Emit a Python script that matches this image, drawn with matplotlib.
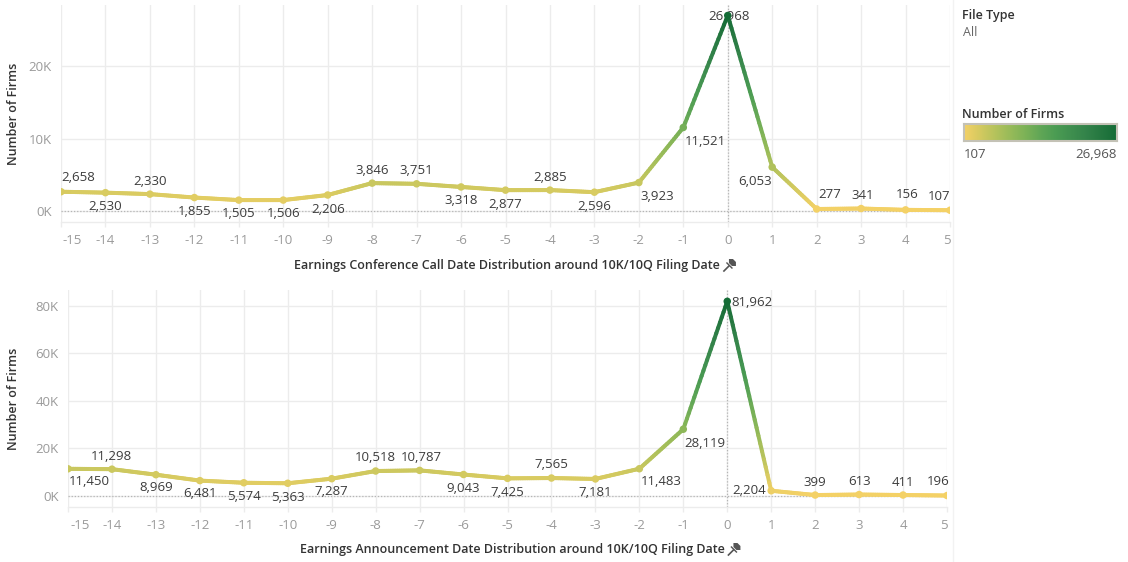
import numpy as np
import matplotlib
matplotlib.use("Agg")
import matplotlib.pyplot as plt
from matplotlib.collections import LineCollection
from matplotlib.colors import LinearSegmentedColormap, Normalize
from matplotlib.patches import Polygon
import matplotlib.transforms as mtransforms

# ---------------- data ----------------
days = list(range(-15, 6))
call_firms = [2658, 2530, 2330, 1855, 1505, 1506, 2206, 3846, 3751, 3318, 2877,
              2885, 2596, 3923, 11521, 26968, 6053, 277, 341, 156, 107]
ann_firms = [11450, 11298, 8969, 6481, 5574, 5363, 7287, 10518, 10787, 9043, 7425,
             7565, 7181, 11483, 28119, 81962, 2204, 399, 613, 411, 196]
call_yticks = [0, 10000, 20000]
ann_yticks = [0, 20000, 40000, 60000, 80000]
call_xlabel = "Earnings Conference Call Date Distribution around 10K/10Q Filing Date"
ann_xlabel = "Earnings Announcement Date Distribution around 10K/10Q Filing Date"
y_title = "Number of Firms"
legend_filter_title = "File Type"
legend_filter_value = "All"
legend_color_title = "Number of Firms"

# label placement offsets (pixels; dy positive = up)
call_lab_off = [(17, 14), (0, -14), (0, 13), (0, -14), (0, -13), (0, -13), (0, -14),
                (0, 13), (0, 13), (0, -14), (0, -14), (0, 13), (0, -14), (18, -14),
                (22, -14), (1, -1), (-17, -14), (13, 14), (2, 13), (2, 15), (-11, 14)]
ann_lab_off = [(21, -13), (-1, 13), (0, -13), (0, -13), (0, -14), (0, -14), (0, -13),
               (0, 14), (2, 13), (0, -14), (0, -14), (0, 14), (0, -14), (22, -13),
               (22, -14), (25, -1), (-22, 0), (0, 13), (0, 13), (0, 13), (-9, 14)]

FONT = "Open Sans"
plt.rcParams["font.family"] = [FONT, "DejaVu Sans"]

W, H = 1128, 562
DPI = 100
fig = plt.figure(figsize=(W / DPI, H / DPI), dpi=DPI)
fig.patch.set_facecolor("white")

cmap = LinearSegmentedColormap.from_list(
    "goldgreen",
    ["#f4d166", "#d5ca60", "#b6c35c", "#98bb59", "#7cb257", "#60a656",
     "#4b9c53", "#3f8f4f", "#33834a", "#257740", "#146c36"])

GRID = "#ececec"
TICKC = "#9a9a9a"
LABC = "#3c3c3c"
PX = 72.0 / DPI  # points per pixel


def px_axes(left, top, right, bottom):
    return fig.add_axes([left / W, 1 - bottom / H, (right - left) / W, (bottom - top) / H])


def draw_panel(ax, vals, yticks, ylim, offsets, xlabel, first_shift, title_cx, label_y):
    x = np.array(days, dtype=float)
    v = np.array(vals, dtype=float)
    norm = Normalize(vmin=v.min(), vmax=v.max())
    segs, cols = [], []
    n = 24
    for i in range(len(x) - 1):
        t = np.linspace(0, 1, n + 1)
        xs = x[i] + (x[i + 1] - x[i]) * t
        ys = v[i] + (v[i + 1] - v[i]) * t
        for j in range(n):
            segs.append([(xs[j], ys[j]), (xs[j + 1], ys[j + 1])])
            cols.append(cmap(norm((ys[j] + ys[j + 1]) / 2)))
    lc = LineCollection(segs, colors=cols, linewidths=4 * PX, capstyle="round",
                        joinstyle="round", zorder=4)
    ax.add_collection(lc)
    ax.scatter(x, v, s=(7.5 * PX) ** 2, c=[cmap(norm(a)) for a in v], zorder=5,
               linewidths=0)

    ax.set_xlim(-15, 5)
    ax.set_ylim(*ylim)
    ax.set_xticks(days)
    ax.set_xticklabels([str(d) for d in days])
    ax.set_yticks(yticks)
    ax.set_yticklabels(["%dK" % (t // 1000) for t in yticks])
    ax.grid(True, color=GRID, lw=1.0)
    ax.set_axisbelow(True)
    for s in ["top", "right", "left"]:
        ax.spines[s].set_visible(False)
    ax.spines["bottom"].set_color(GRID)
    ax.spines["bottom"].set_linewidth(1.0)
    ax.tick_params(axis="x", colors=GRID, length=5 * PX, width=1.0, pad=5,
                   labelcolor=TICKC, labelsize=9.5)
    ax.tick_params(axis="y", length=0, pad=9 * PX, labelcolor=TICKC, labelsize=9.5)
    # zero lines
    ax.axhline(0, color="#b5b5b5", lw=0.9, ls=(0, (1, 1.5)), zorder=2)
    ax.axvline(0, color="#b5b5b5", lw=0.9, ls=(0, (1, 1.5)), zorder=2)
    # shift first/last tick label
    labs = ax.get_xticklabels()
    labs[0].set_transform(labs[0].get_transform() +
                          mtransforms.ScaledTranslation(first_shift / DPI, 0, fig.dpi_scale_trans))
    labs[-1].set_transform(labs[-1].get_transform() +
                           mtransforms.ScaledTranslation(-3 / DPI, 0, fig.dpi_scale_trans))
    # data labels
    for xi, vi, (dx, dy) in zip(x, v, offsets):
        ax.annotate(f"{int(vi):,}", (xi, vi), xytext=(dx * PX, dy * PX),
                    textcoords="offset points", ha="center", va="center",
                    fontsize=9.5, color=LABC, zorder=3, annotation_clip=False)
    # x title
    t = fig.text(title_cx / W, 1 - label_y / H, xlabel, ha="center", va="center",
                 fontsize=9, color="#333333", fontweight="semibold")
    return t


ax1 = px_axes(61, 5, 950, 222)
t1 = draw_panel(ax1, call_firms, call_yticks, (-1517, 28414), call_lab_off, call_xlabel, 11, 507, 265)
ax2 = px_axes(68, 290, 947, 507)
t2 = draw_panel(ax2, ann_firms, ann_yticks, (-4632, 86737), ann_lab_off, ann_xlabel, 12, 512, 549)

# y titles
fig.text(14 / W, 1 - 113.5 / H, y_title, rotation=90, ha="center", va="center",
         fontsize=9, color="#333333", fontweight="semibold")
fig.text(14 / W, 1 - 398.5 / H, y_title, rotation=90, ha="center", va="center",
         fontsize=9, color="#333333", fontweight="semibold")

# pins after titles
fig.canvas.draw()
renderer = fig.canvas.get_renderer()


def draw_pin(cx, cy):
    # cx, cy in pixel coords (top-left origin)
    def P(px, py):
        return ((cx + px) / W, 1 - (cy + py) / H)
    head = Polygon([P(-1, -6), P(3, -6), P(6, -3), P(6, 1), P(2, 1), P(-1, -2)],
                   closed=True, transform=fig.transFigure, facecolor="#555555",
                   edgecolor="none")
    fig.patches.append(head)
    bar = Polygon([P(-3, -3), P(3, 3), P(2, 4), P(-4, -2)], closed=True,
                  transform=fig.transFigure, facecolor="#555555", edgecolor="none")
    fig.patches.append(bar)
    fig.lines.append(plt.Line2D([(cx - 1) / W, (cx - 6) / W], [1 - (cy + 1) / H, 1 - (cy + 6) / H],
                                transform=fig.transFigure, color="#555555", lw=1.2))


for t, cy in [(t1, 265), (t2, 549)]:
    bb = t.get_window_extent(renderer)
    draw_pin(bb.x1 + 10, cy)

# separator line
fig.lines.append(plt.Line2D([953 / W, 953 / W], [0, 1], transform=fig.transFigure,
                            color="#f2f2f2", lw=1.0))

# legend
fig.text(962 / W, 1 - 16 / H, legend_filter_title, ha="left", va="center", fontsize=9,
         color="#333333", fontweight="semibold")
fig.text(963 / W, 1 - 33 / H, legend_filter_value, ha="left", va="center", fontsize=9,
         color="#666666")
fig.text(962 / W, 1 - 115 / H, legend_color_title, ha="left", va="center", fontsize=9,
         color="#333333", fontweight="semibold")
cax = px_axes(964, 124, 1117, 141)
grad = np.linspace(0, 1, 256).reshape(1, -1)
cax.imshow(grad, aspect="auto", cmap=cmap, extent=(0, 1, 0, 1))
cax.set_xticks([])
cax.set_yticks([])
for s in cax.spines.values():
    s.set_color("#c4c2b6")
    s.set_linewidth(1.5)
fig.text(964 / W, 1 - 154 / H, f"{min(call_firms):,}", ha="left", va="center",
         fontsize=9.5, color="#555555")
fig.text(1117 / W, 1 - 154 / H, f"{max(call_firms):,}", ha="right", va="center",
         fontsize=9.5, color="#555555")

fig.savefig("out.png", dpi=DPI, facecolor="white")
